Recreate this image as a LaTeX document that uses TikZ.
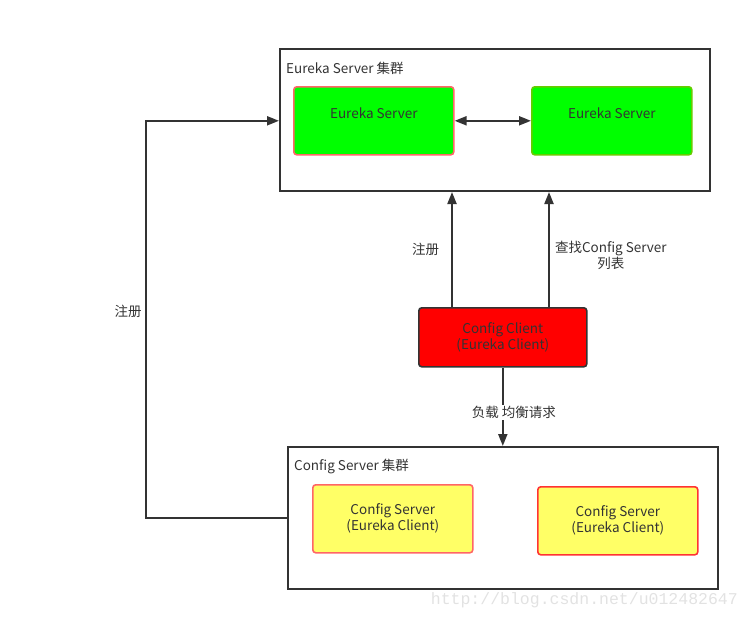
\documentclass[tikz,border=0pt]{standalone}
\usepackage{fontspec}
\usepackage{tikz}
\usetikzlibrary{arrows.meta,positioning,calc}
\setmainfont{Noto Sans CJK SC}
\newfontfamily\wmfont{Liberation Mono}
\definecolor{ink}{HTML}{333333}
\definecolor{srvgreen}{HTML}{00FF00}
\definecolor{srvyellow}{HTML}{FFFF66}
\definecolor{clired}{HTML}{FF0000}
\definecolor{pinkline}{HTML}{FF6666}
\definecolor{redline}{HTML}{FF3333}
\definecolor{greenline}{HTML}{66CC00}
\definecolor{wmark}{HTML}{E2E2E2}

\begin{document}
\begin{tikzpicture}[x=1pt,y=-1pt,font=\fontsize{13.5}{16}\selectfont,text=ink,
  cluster/.style={draw=ink,line width=2pt,rectangle,anchor=north west,
    minimum width=430pt,minimum height=142pt,inner sep=0pt},
  ctitle/.style={anchor=west,inner sep=0pt},
  srv/.style={rectangle,rounded corners=3pt,line width=1.6pt,anchor=north west,
    minimum width=160pt,minimum height=68pt,align=center,inner sep=0pt},
  eus/.style={srv,fill=srvgreen,text depth=16pt},
  cfs/.style={srv,fill=srvyellow},
  arr/.style={-{Triangle[length=12pt,width=9pt]},draw=ink,line width=2pt},
  lbl/.style={inner sep=1pt,align=center}]
  \useasboundingbox (0,0) rectangle (749,621);
  % Eureka Server cluster
  \node[cluster] (ecl) at (279,48) {};
  \node[ctitle] (ecltitle) at (286,68) {Eureka Server 集群};
  \node[eus,draw=pinkline] (es1) at (293,86) {Eureka Server};
  \node[eus,draw=greenline] (es2) at (531,86) {Eureka Server};
  \draw[arr,{Triangle[length=12pt,width=9pt]}-{Triangle[length=12pt,width=9pt]}] (es1) -- (es2);
  % client
  \node[srv,fill=clired,draw=ink,minimum width=168pt,minimum height=59pt] (cc) at (418,307)
    {Config Client\\(Eureka Client)};
  % Config Server cluster
  \node[cluster] (csl) at (287,446) {};
  \node[ctitle] (csltitle) at (294,466) {Config Server 集群};
  \node[cfs,draw=pinkline] (cs1) at (312,484) {Config Server\\(Eureka Client)};
  \node[cfs,draw=redline] (cs2) at (537,486) {Config Server\\(Eureka Client)};
  % connectors
  \draw[arr] ([xshift=34pt]cc.north west) -- ([xshift=34pt]cc.north west |- ecl.south)
    node[pos=0.5,left=11pt,lbl] (reg1) {注册};
  \draw[arr] ([xshift=131pt]cc.north west) -- ([xshift=131pt]cc.north west |- ecl.south)
    node[pos=0.45,right=4pt,lbl] (lookup) {查找Config Server\\列表};
  \draw[arr] (cc.south) -- (cc.south |- csl.north)
    node[pos=0.57,lbl,fill=white,xshift=11pt] (lb) {负载 均衡请求};
  \coordinate (bend) at (146,517);
  \draw[arr] (csl.west) -- (bend |- csl.west) |- (ecl.west |- es1);
  \node[lbl] (reg2) at (128,311) {注册};
  \node[anchor=east,inner sep=0pt,text=wmark,font=\wmfont\fontsize{16.5}{18}\selectfont] (wm)
    at (738,600) {http://blog.csdn.net/u012482647};
\end{tikzpicture}
\end{document}
